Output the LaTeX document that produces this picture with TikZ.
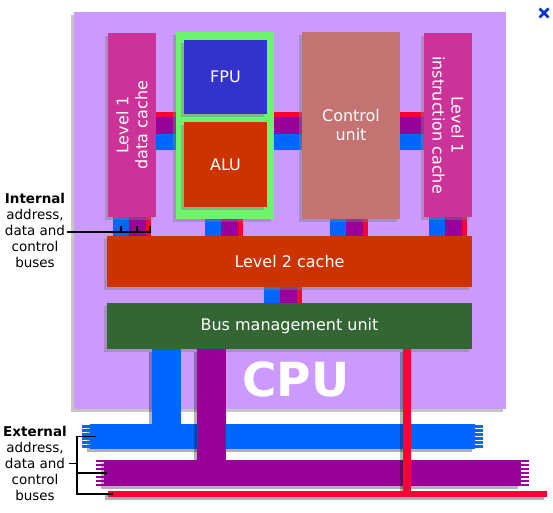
\documentclass[tikz,border=0pt]{standalone}
\usepackage{fontspec}
\setmainfont{DejaVu Sans}
\usetikzlibrary{shadows}

\definecolor{cpuback}{HTML}{CC99FF}
\definecolor{cachepink}{HTML}{CC3399}
\definecolor{coregreen}{HTML}{6CF56C}
\definecolor{fpublue}{HTML}{3333CC}
\definecolor{rust}{HTML}{CC3300}
\definecolor{ctrlrose}{HTML}{C47272}
\definecolor{bmugreen}{HTML}{336633}
\definecolor{addrblue}{HTML}{0066FF}
\definecolor{dataviolet}{HTML}{990099}
\definecolor{ctrlred}{HTML}{FF0033}
\definecolor{closeblue}{HTML}{0033CC}

\pgfdeclarelayer{back}
\pgfdeclarelayer{wires}
\pgfsetlayers{back,wires,main}

% three internal buses running down from one block to the next
\newcommand{\vbus}[3]{%
  \draw[addrblue, line width=16pt] (#1+8,0 |- #2.south) -- (#1+8,0 |- #3.north);
  \draw[dataviolet, line width=17pt] (#1+24.5,0 |- #2.south) -- (#1+24.5,0 |- #3.north);
  \draw[ctrlred, line width=5pt] (#1+35.5,0 |- #2.south) -- (#1+35.5,0 |- #3.north);}

\begin{document}
\begin{tikzpicture}[x=1pt, y=-1pt,
  block/.style={inner sep=0pt, drop shadow={shadow xshift=-3pt, shadow yshift=-3pt, opacity=.45}},
  blocktext/.style={text=white, align=center, font=\fontsize{16}{19}\selectfont},
  busnote/.style={inner sep=2pt, align=center, font=\fontsize{13.5}{16}\selectfont},
  bracket/.style={draw=black, line width=1.8pt},
  busshadow/.style={draw=black, opacity=.3, transform canvas={xshift=-3pt, yshift=-3pt}}]

\useasboundingbox (0,0) rectangle (553,512);

% CPU frame
\begin{pgfonlayer}{back}
\node[block, fill=cpuback, minimum width=432, minimum height=397] (cpu) at (290,210.5) {};
\end{pgfonlayer}

% blocks
\node[block, fill=cachepink, minimum width=48, minimum height=184,
  label={[rotate=90, blocktext]center:Level 1\\data cache}] (dcache) at (132,125) {};
\node[block, fill=coregreen, minimum width=98, minimum height=187] (core) at (225,125.5) {};
\node[block, fill=fpublue, minimum width=83, minimum height=74, blocktext] (fpu) at (225.5,77) {FPU};
\node[block, fill=rust, minimum width=83, minimum height=85, blocktext] (alu) at (225.5,164.5) {ALU};
\node[block, fill=ctrlrose, minimum width=98, minimum height=187, blocktext] (ctrl) at (351,125.5) {Control\\unit};
\node[block, fill=cachepink, minimum width=48, minimum height=184,
  label={[rotate=-90, blocktext]center:Level 1\\instruction cache}] (icache) at (448,125) {};
\node[block, fill=rust, minimum width=365, minimum height=51, blocktext] (ltwo) at (289.5,261.5) {Level 2 cache};
\node[block, fill=bmugreen, minimum width=365, minimum height=46, blocktext] (bmu) at (289.5,326) {Bus management unit};

\node[text=white, font=\bfseries\fontsize{47}{47}\selectfont] (cpuname) at (296,379) {CPU};

% internal buses
\begin{pgfonlayer}{wires}
\draw[ctrlred, line width=5pt] (dcache.east |- 0,114.5) -- (icache.west |- 0,114.5);
\draw[dataviolet, line width=17pt] (dcache.east |- 0,125.5) -- (icache.west |- 0,125.5);
\draw[addrblue, line width=16pt] (dcache.east |- 0,142) -- (icache.west |- 0,142);
\vbus{113}{dcache}{ltwo}
\vbus{205}{core}{ltwo}
\vbus{330}{ctrl}{ltwo}
\vbus{429}{icache}{ltwo}
\vbus{264}{ltwo}{bmu}
\end{pgfonlayer}

% external buses
\coordinate (abusL) at (82,436.5);
\coordinate (abusR) at (483,436.5);
\coordinate (dbusL) at (96,473);
\coordinate (dbusR) at (529,473);
\coordinate (cbusL) at (108,494);
\coordinate (cbusR) at (547,494);

\draw[busshadow, line width=25pt] ([xshift=8]abusL) -- ([xshift=-8]abusR);
\draw[busshadow, line width=29pt] (166.5,0 |- bmu.south) -- (166.5,0 |- abusL);
\draw[addrblue, line width=25pt] ([xshift=8]abusL) -- ([xshift=-8]abusR);
\draw[addrblue, line width=29pt] (166.5,0 |- bmu.south) -- (166.5,0 |- abusL);
\foreach \yy in {-10,-6,-2,2,6,10} {
  \draw[addrblue, line width=2.4pt] ([yshift=\yy]abusL) -- ++(8,0);
  \draw[addrblue, line width=2.4pt] ([yshift=\yy]abusR) -- ++(-8,0);
}

\draw[busshadow, line width=26pt] ([xshift=8]dbusL) -- ([xshift=-8]dbusR);
\draw[busshadow, line width=29pt] (211.5,0 |- bmu.south) -- (211.5,0 |- dbusL);
\draw[dataviolet, line width=26pt] ([xshift=8]dbusL) -- ([xshift=-8]dbusR);
\draw[dataviolet, line width=29pt] (211.5,0 |- bmu.south) -- (211.5,0 |- dbusL);
\foreach \yy in {-12,-8,-4,0,4,8,12} {
  \draw[dataviolet, line width=2.4pt] ([yshift=\yy]dbusL) -- ++(8,0);
  \draw[dataviolet, line width=2.4pt] ([yshift=\yy]dbusR) -- ++(-8,0);
}

\draw[busshadow, line width=6pt] (cbusL) -- (cbusR);
\draw[busshadow, line width=8pt] (407,0 |- bmu.south) -- (407,0 |- cbusL);
\draw[ctrlred, line width=6pt] (cbusL) -- (cbusR);
\draw[ctrlred, line width=8pt] (407,0 |- bmu.south) -- (407,0 |- cbusL);

% notes
\node[busnote] (intnote) at (35,230.5) {\textbf{Internal}\\address,\\data and\\control\\buses};
\node[busnote] (extnote) at (35,463.5) {\textbf{External}\\address,\\data and\\control\\buses};

\coordinate (tap) at (150,232);
\draw[bracket] (intnote.east |- tap) -- (tap) -- ++(0,-6);
\foreach \tx in {121,137}
  \draw[bracket] (\tx,232) -- ++(0,-6);

\draw[bracket] ([xshift=14]abusL) -| ([xshift=-31]cbusL) -- ([xshift=5]cbusL);
\draw[bracket] ([xshift=11]dbusL) -- ++(-30,0);
\draw[bracket] (extnote.east) -- (77,0 |- extnote.east);

% close mark
\draw[closeblue, line width=2.6pt] (539.5,8.5) -- (548.5,17.5) (539.5,17.5) -- (548.5,8.5);
\end{tikzpicture}
\end{document}
